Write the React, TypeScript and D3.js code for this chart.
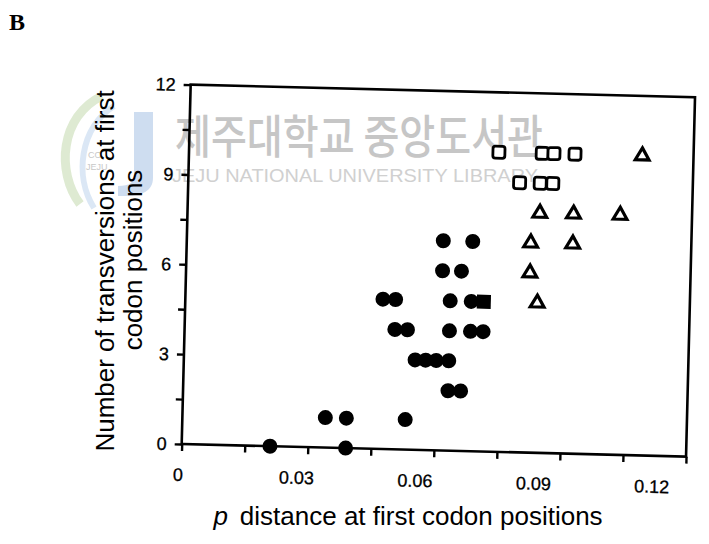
import React, { useEffect, useRef } from "react";
import * as d3 from "d3";

// filled circles
const filledX = [0.021, 0.039, 0.034, 0.039, 0.053, 0.063, 0.066, 0.055, 0.0575, 0.06, 0.063, 0.05, 0.053, 0.063, 0.068, 0.071, 0.047, 0.05, 0.063, 0.068, 0.061, 0.0655, 0.061, 0.068];
const filledY = [0, 0, 1, 1, 1, 2, 2, 3, 3, 3, 3, 4, 4, 4, 4, 4, 5, 5, 5, 5, 6, 6, 7, 7];
// one filled square
const solidSquareX = [0.071];
const solidSquareY = [5];
// open squares
const openSquareX = [0.0737, 0.084, 0.0868, 0.0918, 0.0788, 0.0837, 0.0867];
const openSquareY = [10, 10, 10, 10, 9, 9, 9];
// open triangles
const triangleX = [0.1078, 0.0838, 0.0918, 0.1029, 0.0818, 0.0918, 0.0818, 0.0837];
const triangleY = [10, 8, 8, 8, 7, 7, 6, 5];

const xTickValues = [0, 0.015, 0.03, 0.045, 0.06, 0.075, 0.09, 0.105, 0.12];
const yTickValues = [0, 1.5, 3, 4.5, 6, 7.5, 9, 10.5, 12];
const xLabelValues = [0, 0.03, 0.06, 0.09, 0.12];
const xLabels = ["0", "0.03", "0.06", "0.09", "0.12"];
const yLabelValues = [0, 3, 6, 9, 12];
const yLabels = ["0", "3", "6", "9", "12"];

const W = 709;
const H = 544;
const origin = { x: 181.7, y: 444 };
const tilt = 1.43; // scanned page is a bit rotated
const plotW = 504.5;
const plotH = 359.5;
const font = "'Liberation Sans', Arial, Helvetica, sans-serif";

const App: React.FC = () => {
  const svgRef = useRef<SVGSVGElement | null>(null);

  useEffect(() => {
    if (!svgRef.current) return;
    const svg = d3.select(svgRef.current);
    svg.selectAll("*").remove();

    // watermark (library stamp)
    const wm = svg.append("g").attr("class", "watermark");
    wm.append("path")
      .attr("d", "M80,204 C56,172 60,116 102,96")
      .attr("fill", "none")
      .attr("stroke", "#d3e3c3")
      .attr("stroke-width", 9)
      .attr("opacity", 0.75);
    wm.append("path")
      .attr("d", "M94,208 C74,176 80,128 114,106")
      .attr("fill", "none")
      .attr("stroke", "#cfdff1")
      .attr("stroke-width", 6)
      .attr("opacity", 0.75);
    wm.append("path")
      .attr("d", "M134,112 L153,112 L153,178 C153,192 140,197 118,196 L118,186 C130,186 134,182 134,176 Z")
      .attr("fill", "#c2d4ec")
      .attr("opacity", 0.8);
    wm.append("text")
      .attr("x", 88)
      .attr("y", 158)
      .attr("font-family", font)
      .attr("font-size", 9)
      .attr("fill", "#c8c8c8")
      .text("CO");
    wm.append("text")
      .attr("x", 86)
      .attr("y", 170)
      .attr("font-family", font)
      .attr("font-size", 9)
      .attr("fill", "#c8c8c8")
      .text("JEJU");
    wm.append("text")
      .attr("x", 175)
      .attr("y", 153)
      .attr("font-family", "'Noto Sans CJK KR', sans-serif")
      .attr("font-size", 46)
      .attr("font-weight", 500)
      .attr("fill", "#c6c6c6")
      .attr("textLength", 368)
      .attr("lengthAdjust", "spacingAndGlyphs")
      .text("제주대학교 중앙도서관");
    wm.append("text")
      .attr("x", 172)
      .attr("y", 182)
      .attr("font-family", font)
      .attr("font-size", 19)
      .attr("fill", "#d0d0d0")
      .attr("textLength", 366)
      .attr("lengthAdjust", "spacingAndGlyphs")
      .text("JEJU NATIONAL UNIVERSITY LIBRARY");

    const x = d3.scaleLinear().domain([0, 0.12]).range([0, plotW]);
    const y = d3.scaleLinear().domain([0, 12]).range([0, -plotH]);
    // tick labels sit slightly left of their ticks in the original
    const xLab = d3.scaleLinear().domain([0, 0.12]).range([-3, 471]);

    const g = svg
      .append("g")
      .attr("transform", `translate(${origin.x},${origin.y}) rotate(${tilt})`);

    g.append("rect")
      .attr("x", 0)
      .attr("y", -plotH)
      .attr("width", plotW)
      .attr("height", plotH)
      .attr("fill", "none")
      .attr("stroke", "#000")
      .attr("stroke-width", 2.6);

    const xAxis = g
      .append("g")
      .call(d3.axisBottom(x).tickValues(xTickValues).tickSize(7).tickFormat(() => ""));
    const yAxis = g
      .append("g")
      .call(d3.axisLeft(y).tickValues(yTickValues).tickSize(7).tickFormat(() => ""));
    [xAxis, yAxis].forEach((a) => {
      a.select(".domain").remove();
      a.selectAll("line").attr("stroke", "#000").attr("stroke-width", 2.4);
    });

    g.selectAll(".xlab")
      .data(xLabelValues)
      .enter()
      .append("text")
      .attr("class", "xlab")
      .attr("x", (d) => xLab(d))
      .attr("y", 37)
      .attr("text-anchor", "middle")
      .attr("font-family", font)
      .attr("font-size", 18)
      .attr("stroke", "#000")
      .attr("stroke-width", 0.3)
      .text((d, i) => xLabels[i]);

    g.selectAll(".ylab")
      .data(yLabelValues)
      .enter()
      .append("text")
      .attr("class", "ylab")
      .attr("x", -15)
      .attr("y", (d) => y(d))
      .attr("dy", "0.36em")
      .attr("text-anchor", "end")
      .attr("font-family", font)
      .attr("font-size", 18)
      .attr("stroke", "#000")
      .attr("stroke-width", 0.3)
      .text((d, i) => yLabels[i]);

    const filled = filledX.map((v, i) => [v, filledY[i]]);
    g.selectAll(".dot")
      .data(filled)
      .enter()
      .append("circle")
      .attr("class", "dot")
      .attr("cx", (d) => x(d[0]))
      .attr("cy", (d) => y(d[1]))
      .attr("r", 7.5)
      .attr("fill", "#000");

    const solid = solidSquareX.map((v, i) => [v, solidSquareY[i]]);
    g.selectAll(".solidsq")
      .data(solid)
      .enter()
      .append("path")
      .attr("class", "solidsq")
      .attr("transform", (d) => `translate(${x(d[0])},${y(d[1])})`)
      .attr("d", d3.symbol().type(d3.symbolSquare).size(196)())
      .attr("fill", "#000");

    const squares = openSquareX.map((v, i) => [v, openSquareY[i]]);
    g.selectAll(".sq")
      .data(squares)
      .enter()
      .append("rect")
      .attr("class", "sq")
      .attr("x", (d) => x(d[0]) - 6)
      .attr("y", (d) => y(d[1]) - 6)
      .attr("width", 12)
      .attr("height", 12)
      .attr("rx", 2.5)
      .attr("fill", "#fff")
      .attr("stroke", "#000")
      .attr("stroke-width", 2.8);

    const tris = triangleX.map((v, i) => [v, triangleY[i]]);
    g.selectAll(".tri")
      .data(tris)
      .enter()
      .append("path")
      .attr("class", "tri")
      .attr("transform", (d) => `translate(${x(d[0])},${y(d[1])})`)
      .attr("d", d3.symbol().type(d3.symbolTriangle).size(82)())
      .attr("fill", "#fff")
      .attr("stroke", "#000")
      .attr("stroke-width", 3.2)
      .attr("stroke-linejoin", "miter");

    // axis titles
    const xt = svg
      .append("text")
      .attr("x", 408)
      .attr("y", 525)
      .attr("text-anchor", "middle")
      .attr("font-family", font)
      .attr("font-size", 26);
    xt.append("tspan").attr("font-style", "italic").text("p");
    xt.append("tspan").attr("dx", 12).text("distance at first codon positions");

    const yt = svg
      .append("g")
      .attr("transform", "rotate(-90)")
      .attr("font-family", font)
      .attr("font-size", 26)
      .attr("text-anchor", "middle");
    yt.append("text").attr("x", -271).attr("y", 114).text("Number of transversions at first");
    yt.append("text").attr("x", -260).attr("y", 142).text("codon positions");

    svg.append("text")
      .attr("x", 9)
      .attr("y", 30)
      .attr("font-family", "'Liberation Serif', 'Times New Roman', serif")
      .attr("font-weight", "bold")
      .attr("font-size", 24)
      .text("B");
  }, []);

  return (
    <svg
      ref={svgRef}
      width={W}
      height={H}
      style={{ position: "absolute", left: 0, top: 0, background: "#fff" }}
    />
  );
};

export default App;
